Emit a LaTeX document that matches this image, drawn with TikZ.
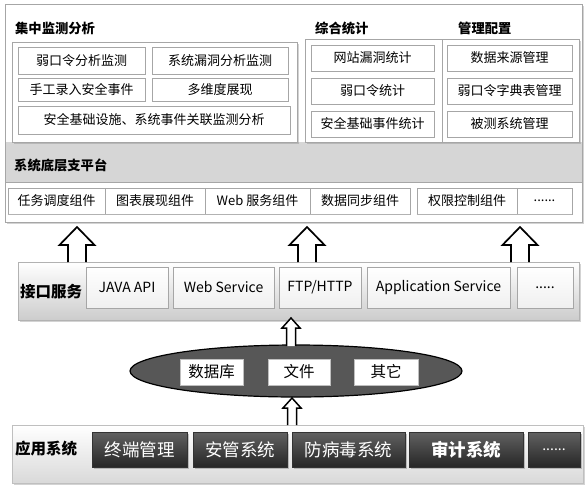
\documentclass[tikz,border=0pt]{standalone}
\usepackage{fontspec}
\setmainfont{Noto Sans CJK SC}
\usetikzlibrary{shadows,shapes.geometric}
\begin{document}
\begin{tikzpicture}[x=1pt,y=-1pt,
  shd/.style={drop shadow={shadow xshift=1.2pt,shadow yshift=-1.2pt,opacity=0.35}},
  frame/.style={draw=gray!70, line width=0.7pt, inner sep=0pt},
  cbox/.style={frame, fill=white, shd, font=\fontsize{13}{15}\selectfont},
  comp/.style={frame, fill=white, font=\fontsize{13}{15}\selectfont},
  title/.style={font=\bfseries\fontsize{13.3}{15}\selectfont, anchor=west, inner sep=0pt},
  btitle/.style={font=\bfseries\fontsize{15.5}{17}\selectfont, anchor=west, inner sep=0pt},
  ibox/.style={frame, top color=white, bottom color=gray!12, shd, font=\fontsize{14}{16}\selectfont},
  band/.style={frame, draw=gray!60, top color=white, bottom color=gray!40, shd},
  ebox/.style={draw=gray!50, fill=white, inner sep=0pt, font=\fontsize{15.5}{17}\selectfont, drop shadow={shadow xshift=1pt,shadow yshift=-1pt,opacity=0.5}},
  dbox/.style={draw=black!80, top color=black!62, bottom color=black!85, text=white, inner sep=0pt, font=\fontsize{17.5}{19}\selectfont, drop shadow={shadow xshift=1.5pt,shadow yshift=-1.5pt,opacity=0.45}},
  harrow/.style={draw=black, fill=white, line width=1.7pt, line join=miter},
  sarrow/.style={draw=black, fill=white, line width=1.5pt, line join=miter},
  pics/bigup/.style={code={\draw[harrow] (-9,0) -- (-9,-17) -- (-17.5,-17) -- (0,-35) -- (17.5,-17) -- (9,-17) -- (9,0);}},
  pics/smallup/.style={code={\draw[sarrow] (-4.5,0) -- (-4.5,-#1) -- (-9,-#1) -- (0,-#1-10) -- (9,-#1) -- (4.5,-#1) -- (4.5,0);}}
]
\useasboundingbox (0,0) rectangle (588,485);

% ---------- top platform ----------
\node[frame, fill=white, shd, minimum width=577, minimum height=218, anchor=north west] (top) at (5,4) {};
\node[fill=gray!32, inner sep=0pt, minimum width=576, minimum height=40, anchor=north west] (graybd) at (5.4,142) {};
\draw[gray!70, line width=0.7pt] (graybd.south west) -- (graybd.south east);
\node[title] (t1) at (15,28) {集中监测分析};
\node[title] (t2) at (315,28) {综合统计};
\node[title] (t3) at (458,28) {管理配置};

\node[frame, fill=white, shd, minimum width=285, minimum height=100, anchor=north west] (lp) at (12,42) {};
\node[frame, fill=white, shd, minimum width=274, minimum height=103, anchor=north west] (rp) at (305,39) {};
\draw[gray!70, line width=0.7pt] (442,39) -- (442,142);

\node[cbox, minimum width=127, minimum height=27] (l1) at (81.5,60.5) {弱口令分析监测};
\node[cbox, minimum width=136, minimum height=27] (l2) at (220,60.5) {系统漏洞分析监测};
\node[cbox, minimum width=127, minimum height=23] (l3) at (81.5,89.5) {手工录入安全事件};
\node[cbox, minimum width=136, minimum height=23] (l4) at (220,89.5) {多维度展现};
\node[cbox, minimum width=272, minimum height=28] (l5) at (154,120) {安全基础设施、系统事件关联监测分析};

\node[cbox, minimum width=123, minimum height=26] (r1) at (372.5,58) {网站漏洞统计};
\node[cbox, minimum width=123, minimum height=26] (r2) at (372.5,91) {弱口令统计};
\node[cbox, minimum width=123, minimum height=26] (r3) at (372.5,124) {安全基础事件统计};
\node[cbox, minimum width=125, minimum height=26] (m1) at (509.5,58) {数据来源管理};
\node[cbox, minimum width=125, minimum height=26] (m2) at (509.5,91) {弱口令字典表管理};
\node[cbox, minimum width=125, minimum height=26] (m3) at (509.5,124) {被测系统管理};

\node[title] (t4) at (14,165) {系统底层支平台};

\node[comp, minimum width=97, minimum height=26] (c1) at (56.5,201) {任务调度组件};
\node[comp, minimum width=100, minimum height=26] (c2) at (155,201) {图表展现组件};
\node[comp, minimum width=105, minimum height=26] (c3) at (257.5,201) {Web 服务组件};
\node[comp, minimum width=100, minimum height=26] (c4) at (360,201) {数据同步组件};
\node[comp, minimum width=100, minimum height=26] (c5) at (467,201) {权限控制组件};
\node[comp, minimum width=55, minimum height=26] (c6) at (544.5,201) {......};
\draw[gray!60, line width=1pt] (c1.south west) -- (c4.south east);
\draw[gray!60, line width=1pt] (c5.south west) -- (c6.south east);

% ---------- interface band ----------
\node[band, minimum width=561, minimum height=58, anchor=north west] (ifb) at (18,262) {};
\node[btitle] (t5) at (20,292) {接口服务};
\node[ibox, minimum width=82, minimum height=41] (i1) at (127,287.5) {JAVA API};
\node[ibox, minimum width=101, minimum height=41] (i2) at (223.5,287.5) {Web Service};
\node[ibox, minimum width=82, minimum height=41] (i3) at (320,287.5) {FTP/HTTP};
\node[ibox, minimum width=143, minimum height=41] (i4) at (438.5,287.5) {Application Service};
\node[ibox, minimum width=56, minimum height=41] (i5) at (545,287.5) {.....};

% ---------- data ellipse ----------
\node[ellipse, draw=black, line width=1.2pt, fill=black!66, minimum width=332, minimum height=52, inner sep=0pt] (db) at (296,371) {};
\node[ebox, minimum width=63, minimum height=26] (e1) at (211.5,372) {数据库};
\node[ebox, minimum width=62, minimum height=26] (e2) at (299,372) {文件};
\node[ebox, minimum width=64, minimum height=26] (e3) at (386,372) {其它};

% ---------- application band ----------
\node[band, draw=gray!50, top color=white, bottom color=gray!30, minimum width=571, minimum height=58, anchor=north west] (apb) at (12,425) {};
\node[btitle] (t6) at (15,449) {应用系统};
\node[dbox, minimum width=95, minimum height=35] (d1) at (139.5,449.5) {终端管理};
\node[dbox, minimum width=94, minimum height=35] (d2) at (240,449.5) {安管系统};
\node[dbox, minimum width=113, minimum height=35] (d3) at (348.5,449.5) {防病毒系统};
\node[dbox, minimum width=114, minimum height=35, font=\bfseries\fontsize{17.5}{19}\selectfont] (d4) at (466,449.5) {审计系统};
\node[dbox, minimum width=52, minimum height=35, font=\fontsize{14}{16}\selectfont] (d5) at (554,449.5) {......};

% ---------- arrows ----------
\coordinate (a1) at (ifb.north -| 77,0);
\coordinate (a2) at (ifb.north -| 307,0);
\coordinate (a3) at (ifb.north -| 520,0);
\pic at (a1) {bigup};
\pic at (a2) {bigup};
\pic at (a3) {bigup};
\coordinate (a4) at (291,346);
\coordinate (a5) at (apb.north -| 292,0);
\pic at (a4) {smallup=18};
\pic at (a5) {smallup=17};
\end{tikzpicture}
\end{document}
